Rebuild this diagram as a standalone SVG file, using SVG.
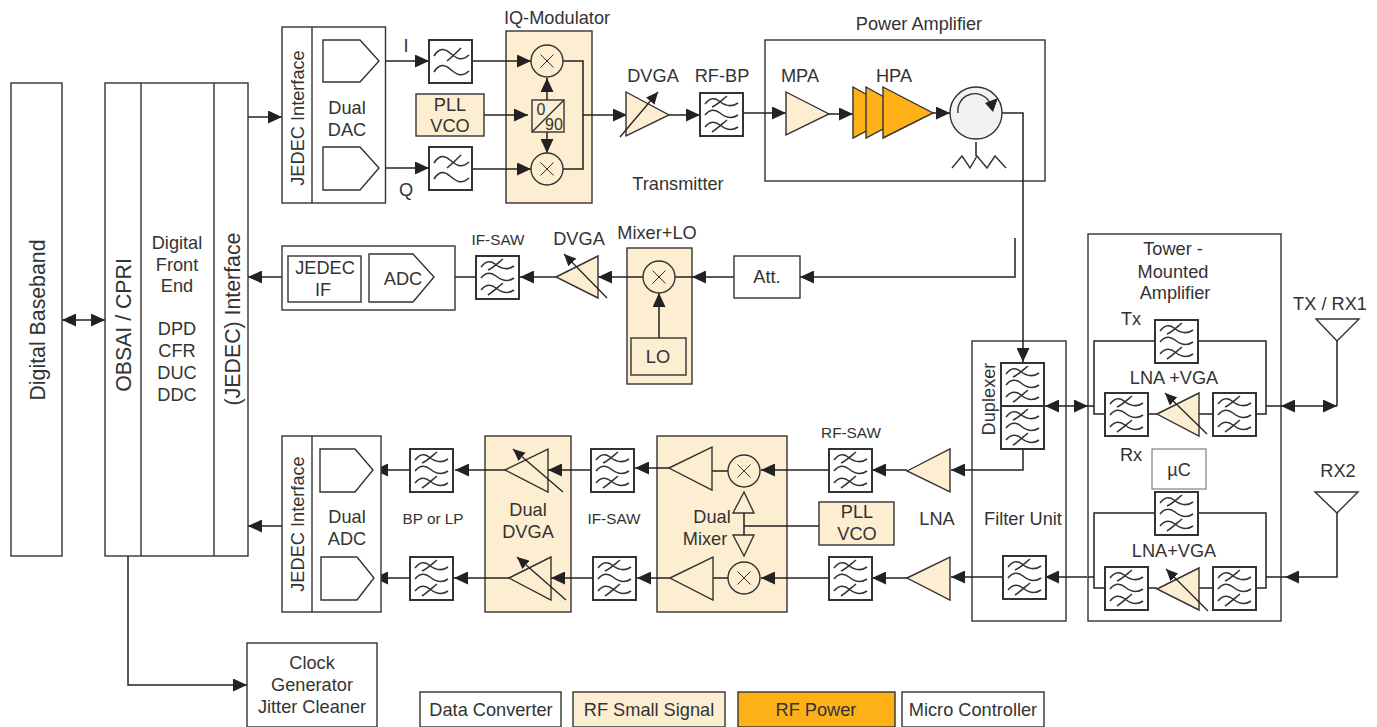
<svg xmlns="http://www.w3.org/2000/svg" width="1377" height="727" viewBox="0 0 1377 727">
<style>
text{font-family:"Liberation Sans",Arial,sans-serif;font-size:18.200px;fill:#333;text-anchor:middle}
.s{font-size:15.300px}
.l{font-size:21.300px}
.b{fill:#fff;stroke:#333;stroke-width:1.4}
.n{fill:none;stroke:#333;stroke-width:1.4}
.r{fill:#fdeed2;stroke:#333;stroke-width:1.4}
.p{fill:#fdb117;stroke:#333;stroke-width:1.4}
.t{stroke:#222;stroke-width:1.5;fill:none}
.a{marker-end:url(#ah)}
.d{marker-start:url(#as);marker-end:url(#ah)}
.sl{stroke:#222;stroke-width:1.3;fill:none;marker-end:url(#ahs)}
</style>
<defs>
<marker id="ah" markerUnits="userSpaceOnUse" markerWidth="15" markerHeight="13" refX="14" refY="6.5" orient="auto"><path d="M0 0L14 6.500L0 13Z" fill="#222"/></marker>
<marker id="as" markerUnits="userSpaceOnUse" markerWidth="15" markerHeight="13" refX="0" refY="6.5" orient="auto"><path d="M14 0L0 6.500L14 13Z" fill="#222"/></marker>
<marker id="ahs" markerUnits="userSpaceOnUse" markerWidth="13" markerHeight="11" refX="12" refY="5.5" orient="auto"><path d="M0 0L12 5.500L0 11Z" fill="#222"/></marker>
<g id="f3">
<rect class="b" style="stroke-width:2" width="43" height="43"/>
<path class="n" style="stroke-width:1.600" d="M5 11C10 5 14 4 19 8S31 15 38 10M12 14C17 12 22 7 27 3M5 22C10 16 15 16 20 20S31 27 38 22M5 34C10 28 15 28 20 32S31 39 38 34M12 39C17 36 22 31 27 27"/>
</g>
<g id="f2">
<rect class="b" style="stroke-width:2" width="43" height="43"/>
<path class="n" style="stroke-width:1.600" d="M5 16C10 8 15 8 21 13S32 22 40 15M18 21C23 17 28 12 32 8M5 32C10 24 15 24 21 29S32 38 40 31"/>
</g>
<g id="mx">
<circle class="n" r="16"/>
<path class="n" style="stroke-width:1" d="M-6.500 -6.500L6.500 6.500M-6.500 6.500L6.500 -6.500"/>
</g>
</defs>

<g id="containers">
<g id="iq-modulator"><rect class="r" x="506" y="31" width="86" height="172"/><text x="557" y="24">IQ-Modulator</text></g>
<g id="power-amplifier"><rect class="b" x="765" y="40" width="280" height="141"/><text x="919" y="30">Power Amplifier</text></g>
<g id="mixer-lo-box"><rect class="r" x="627" y="248" width="65" height="136"/><text x="657" y="239">Mixer+LO</text></g>
<g id="dual-dvga"><rect class="r" x="485" y="436" width="86" height="176"/><text x="528" y="516">Dual</text><text x="528" y="538">DVGA</text></g>
<g id="dual-mixer"><rect class="r" x="657" y="436" width="130" height="176"/></g>
<g id="filter-unit"><rect class="b" x="972" y="341" width="94" height="280"/><text x="1023" y="525">Filter Unit</text></g>
<g id="tower"><rect class="b" x="1088" y="234" width="193" height="387"/><text x="1173" y="255">Tower -</text><text x="1173" y="278">Mounted</text><text x="1175" y="299">Amplifier</text><text x="1131" y="325">Tx</text><text x="1174" y="384">LNA +VGA</text><text x="1131" y="461">Rx</text><text x="1174" y="557">LNA+VGA</text></g>
</g>

<g id="connectors">
<path class="t d" d="M62 320H105"/>
<path class="t a" d="M248 117H282"/>
<path class="t a" d="M379 61H429"/>
<path class="t a" d="M379 168H429"/>
<path class="t a" d="M472 61H531"/>
<path class="t a" d="M472 169H531"/>
<path class="t a" d="M484 115H528"/>
<path class="t a" d="M547 100V78"/>
<path class="t a" d="M547 132V153"/>
<path class="t" d="M563 61H583V169H563"/>
<path class="t a" d="M583 115H627"/>
<path class="t a" d="M669 115H700"/>
<path class="t a" d="M743 113H786"/>
<path class="t a" d="M829 114H853"/>
<path class="t a" d="M933 113H950"/>
<path class="t a" d="M1002 113H1023V362"/>
<path class="t" d="M976 142V156"/>
<path class="t a" d="M1015 238V277H800"/>
<path class="t a" d="M734 277H692"/>
<path class="t" d="M692 277H675"/>
<path class="t a" d="M643 277H598"/>
<path class="t a" d="M556 277H520"/>
<path class="t a" d="M476 277H435"/>
<path class="t a" d="M282 277H248"/>
<path class="t a" d="M659 338V293"/>
<path class="t d" d="M1045 406H1088"/>
<path class="t a" d="M1023 449V470H951"/>
<path class="t a" d="M907 470H872"/>
<path class="t a" d="M829 470H761"/>
<path class="t" d="M728 471H712"/>
<path class="t a" d="M669 468H635"/>
<path class="t a" d="M591 470H548"/>
<path class="t a" d="M505 470H455"/>
<path class="t a" d="M410 470H374"/>
<path class="t a" d="M1087 577H1045"/>
<path class="t a" d="M1003 577H951"/>
<path class="t a" d="M907 578H872"/>
<path class="t a" d="M829 578H761"/>
<path class="t" d="M728 578H713"/>
<path class="t a" d="M670 578H637"/>
<path class="t a" d="M592 578H551"/>
<path class="t a" d="M509 578H454"/>
<path class="t a" d="M410 578H374"/>
<path class="t a" d="M282 526H248"/>
<path class="t" d="M744 513V535M744 526H819"/>
<path class="t a" d="M128 556V685H247"/>
<path class="t" d="M1088 406H1094V341H1266V414H1256M1094 341V414H1105M1148 414H1157M1199 414H1213"/>
<path class="t" d="M1088 577H1094V513H1266V588H1256M1094 513V588H1105M1148 588H1157M1199 588H1213"/>
<path class="t" d="M1266 406H1281"/>
<path class="t" d="M1266 577H1285"/>
<path class="t d" d="M1281 406H1337"/>
<path class="t" d="M1337 341V406"/>
<path class="t a" d="M1337 513V577H1285"/>
</g>

<g id="digital-baseband"><rect class="b" x="11" y="83" width="51" height="473"/><text class="l" transform="translate(45 320) rotate(-90)">Digital Baseband</text></g>
<g id="dfe">
<rect class="b" x="105" y="83" width="143" height="473"/><path class="n" d="M141 83V556M214 83V556"/>
<text class="l" transform="translate(131 325) rotate(-90)">OBSAI / CPRI</text>
<text x="177" y="249">Digital</text><text x="177" y="271">Front</text><text x="177" y="292">End</text>
<text x="177" y="335">DPD</text><text x="177" y="357">CFR</text><text x="177" y="379">DUC</text><text x="177" y="401">DDC</text>
<text class="l" transform="translate(240 319) rotate(-90)">(JEDEC) Interface</text>
</g>
<g id="dual-dac">
<rect class="b" x="282" y="27" width="103.500" height="176"/><path class="n" d="M312 27V203"/>
<text transform="translate(304 118) rotate(-90)">JEDEC Interface</text>
<path class="b" d="M323 40H360L379 61L360 82H323Z"/><path class="b" d="M323 147H360L379 168L360 190H323Z"/>
<text x="347" y="114">Dual</text><text x="347" y="136">DAC</text>
<text x="406" y="52">I</text><text x="406" y="196">Q</text>
</g>
<use id="filter-i" href="#f2" x="429" y="40"/>
<use id="filter-q" href="#f2" x="429" y="147"/>
<g id="pll-tx"><rect class="r" x="416" y="94" width="68" height="42"/><text x="450" y="111">PLL</text><text x="450" y="132">VCO</text></g>
<use id="mixer-i" href="#mx" x="547" y="61"/>
<use id="mixer-q" href="#mx" x="547" y="169"/>
<g id="splitter"><rect class="n" x="532" y="100" width="32" height="32"/><path class="n" d="M532 132L564 100"/><text x="541" y="115" style="font-size:16px">0</text><text x="554" y="130" style="font-size:16px">90</text></g>
<g id="dvga-tx"><path class="r" d="M626 92L669 115L626 136Z"/><path class="sl" d="M620 137L658 92"/><text x="653" y="82">DVGA</text></g>
<g id="rf-bp"><use href="#f3" x="700" y="93"/><text x="722" y="82">RF-BP</text></g>
<g id="mpa"><path class="r" d="M786 92L829 114L786 135Z"/><text x="800" y="82">MPA</text></g>
<g id="hpa"><path class="p" d="M853 87L900 113L853 138Z"/><path class="p" d="M866 87L913 113L866 138Z"/><path class="p" d="M883 87L933 113L883 138Z"/><text x="894" y="82">HPA</text></g>
<g id="circulator"><circle cx="976" cy="113" r="26" fill="#f1f2f4" stroke="#333" stroke-width="1.400"/><path class="n" d="M958 113A17 17 0 0 1 990 103"/><path d="M985 103L998 98L993 112Z" fill="#222"/><path class="n" d="M952 168L962 156L970 168L977 156L987 168L995 156L1006 168"/></g>
<g id="transmitter-label"><text x="678" y="190">Transmitter</text></g>
<g id="att"><rect class="b" x="734" y="256" width="66" height="42"/><text x="767" y="283">Att.</text></g>
<use id="mixer-lo" href="#mx" x="659" y="277"/>
<g id="lo"><rect class="r" x="631" y="338" width="55" height="37"/><text x="658" y="363">LO</text></g>
<g id="dvga-fb"><path class="r" d="M556 277L598 256V298Z"/><path class="sl" d="M607 298L564 254"/><text x="579" y="245">DVGA</text></g>
<g id="if-saw-fb"><use href="#f3" x="476" y="256"/><text x="498" y="245" class="s">IF-SAW</text></g>
<g id="adc-fb"><rect class="b" x="282" y="246" width="173" height="64"/><rect class="b" x="288" y="256" width="73" height="46"/><text x="325" y="274">JEDEC</text><text x="323" y="296">IF</text><path class="b" d="M369 254H413L434 277L413 302H369Z"/><text x="403" y="285">ADC</text></g>
<g id="duplexer"><use href="#f3" x="1001" y="363"/><use href="#f3" x="1001" y="406"/><text transform="translate(995 399) rotate(-90)">Duplexer</text></g>
<use id="filter-unit-rx2" href="#f3" x="1003" y="556"/>
<g id="tma-tx"><use href="#f3" x="1155" y="320"/><use href="#f3" x="1105" y="393"/><use href="#f3" x="1213" y="393"/><path class="r" d="M1157 414L1199 393V436Z"/><path class="sl" d="M1207 434L1165 393"/></g>
<g id="uc"><rect x="1152" y="449" width="54" height="40" fill="#fff" stroke="#666" stroke-width="1"/><text x="1179" y="476">µC</text></g>
<g id="tma-rx"><use href="#f3" x="1155" y="492"/><use href="#f3" x="1105" y="567"/><use href="#f3" x="1213" y="567"/><path class="r" d="M1157 589L1199 568V610Z"/><path class="sl" d="M1208 611L1166 569"/></g>
<g id="ant1"><path class="b" d="M1316 319H1359L1337 341Z"/><text x="1330" y="310">TX / RX1</text></g>
<g id="ant2"><path class="b" d="M1315 492H1358L1337 513Z"/><text x="1338" y="477">RX2</text></g>
<g id="lna-1"><path class="r" d="M907 471L950 449V492Z"/></g>
<g id="lna-2"><path class="r" d="M907 578L950 557V600Z"/><text x="937" y="525">LNA</text></g>
<g id="rf-saw-1"><use href="#f3" x="829" y="449"/><text x="851" y="438" class="s">RF-SAW</text></g>
<use id="rf-saw-2" href="#f3" x="829" y="557"/>
<g id="pll-rx"><rect class="r" x="819" y="502" width="75" height="43"/><text x="857" y="518">PLL</text><text x="857" y="540">VCO</text></g>
<use id="mixer-rx1" href="#mx" x="744" y="471"/>
<use id="mixer-rx2" href="#mx" x="744" y="578"/>
<g id="mixer-amps"><path class="r" d="M669 468L712 447V490Z"/><path class="r" d="M670 578L713 557V600Z"/><path class="n" d="M733 513H754L744 492Z"/><path class="n" d="M733 535H754L744 556Z"/><text x="712" y="523">Dual</text><text x="705" y="545">Mixer</text></g>
<use id="if-saw-1" href="#f3" x="591" y="449"/>
<use id="if-saw-2" href="#f3" x="593" y="557"/>
<g id="if-saw-label"><text x="614" y="524" class="s">IF-SAW</text></g>
<g id="dvga-rx1"><path class="n" d="M505 470L548 449V492Z"/><path class="sl" d="M563 492L513 449"/></g>
<g id="dvga-rx2"><path class="n" d="M509 578L551 557V600Z"/><path class="sl" d="M566 600L517 557"/></g>
<use id="bp-1" href="#f3" x="410" y="449"/>
<use id="bp-2" href="#f3" x="410" y="557"/>
<g id="bp-label"><text x="433" y="524" class="s">BP or LP</text></g>
<g id="dual-adc"><rect class="b" x="282" y="436" width="99" height="176"/><path class="n" d="M312 436V612"/><text transform="translate(304 524) rotate(-90)">JEDEC Interface</text><path class="b" d="M320 449H355L373 470L355 492H320Z"/><path class="b" d="M321 557H357L374 578L357 600H321Z"/><text x="347" y="523">Dual</text><text x="347" y="545">ADC</text></g>
<g id="clock"><rect class="b" x="247" y="643" width="130" height="84"/><text x="312" y="669">Clock</text><text x="312" y="691">Generator</text><text x="312" y="713">Jitter Cleaner</text></g>
<g id="legend">
<rect class="b" x="420" y="692" width="141" height="35"/><text x="491" y="716">Data Converter</text>
<rect class="r" x="573" y="692" width="152" height="35"/><text x="649" y="716">RF Small Signal</text>
<rect class="p" x="738" y="692" width="157" height="35"/><text x="816" y="716">RF Power</text>
<rect class="b" x="902" y="692" width="142" height="35"/><text x="973" y="716">Micro Controller</text>
</g>
</svg>
